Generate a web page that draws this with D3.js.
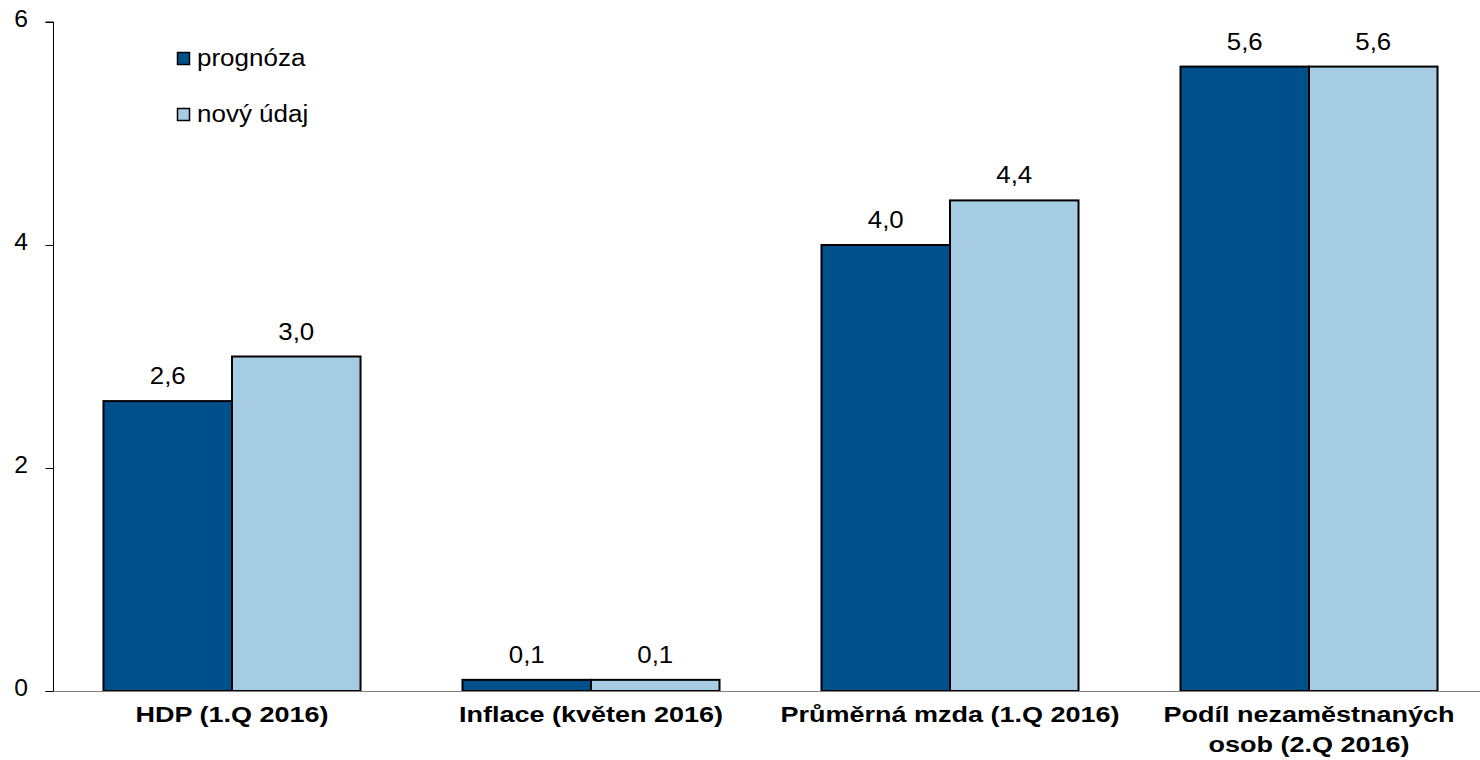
<!DOCTYPE html>
<html lang="cs">
<head>
<meta charset="utf-8">
<script src="https://cdn.jsdelivr.net/npm/d3@7"></script>
<style>
  html, body { margin: 0; padding: 0; background: #fff; }
  svg { display: block; font-family: "Liberation Sans", Arial, sans-serif; }
</style>
</head>
<body>
<svg id="chart" width="1480" height="760"></svg>
<script>
// Indicators compared: forecast vs. newly published figure
const categories = [
  ["HDP (1.Q 2016)"],
  ["Inflace (květen 2016)"],
  ["Průměrná mzda (1.Q 2016)"],
  ["Podíl nezaměstnaných", "osob (2.Q 2016)"]
];
const seriesNames = ["prognóza", "nový údaj"];
const prognoza = [2.6, 0.1, 4.0, 5.6];
const novyUdaj = [3.0, 0.1, 4.4, 5.6];
const yTicks = [0, 2, 4, 6];
const colors = ["#00508C", "#A6CCE4"];

const svg = d3.select("#chart");
const W = 1480, H = 760;
const plot = { left: 53, right: 1488.5, top: 22, bottom: 691 };

// Text in this chart is drawn slightly wide; place it with a horizontal stretch
function placeText(sel, x, y, sx) {
  sel.attr("transform", `translate(${x},${y}) scale(${sx},1)`);
  return sel;
}

const catKeys = categories.map(c => c.join(" "));
const x = d3.scaleBand()
  .domain(catKeys)
  .range([plot.left - 0.5, plot.right])
  .paddingInner(0.284)
  .paddingOuter(0.142);
const xs = d3.scaleBand()
  .domain(seriesNames)
  .range([0, x.bandwidth()])
  .padding(0);
const y = d3.scaleLinear().domain([0, 6]).range([plot.bottom, plot.top]);

const fmt = v => d3.format(".1f")(v).replace(".", ",");
const series = [prognoza, novyUdaj];

// Bars and value labels
const groups = svg.append("g").selectAll("g")
  .data(catKeys)
  .join("g")
  .attr("transform", d => `translate(${x(d)},0)`);

groups.each(function(cat, i) {
  const g = d3.select(this);
  seriesNames.forEach((name, s) => {
    const v = series[s][i];
    g.append("rect")
      .attr("x", xs(name))
      .attr("y", y(v))
      .attr("width", xs.bandwidth())
      .attr("height", y(0) - y(v))
      .attr("fill", colors[s])
      .attr("stroke", "#000")
      .attr("stroke-width", 2);
    placeText(
      g.append("text")
        .attr("text-anchor", "middle")
        .attr("font-size", 23.5)
        .attr("fill", "#000")
        .text(fmt(v)),
      xs(name) + xs.bandwidth() / 2, y(v) - 17, 1.1);
  });
});

// Zero baseline
svg.append("line")
  .attr("x1", plot.left - 8).attr("x2", W)
  .attr("y1", y(0) + 0.5).attr("y2", y(0) + 0.5)
  .attr("stroke", "#808080")
  .attr("stroke-width", 1.2);

// Y axis
const yAxis = svg.append("g")
  .attr("transform", `translate(${plot.left + 0.5},0)`)
  .call(d3.axisLeft(y).tickValues(yTicks).tickSize(8).tickFormat(d3.format("d")));
yAxis.attr("font-size", 23.5).attr("font-family", "Liberation Sans, Arial, sans-serif");
yAxis.select(".domain").attr("stroke", "#000").attr("d", `M-8,${y(6)}H0V${y(0)}`);
yAxis.selectAll(".tick line").attr("stroke", "#000");
yAxis.selectAll(".tick text")
  .attr("x", null).attr("dy", null)
  .attr("font-size", 23.5)
  .attr("fill", "#000")
  .attr("text-anchor", "end")
  .attr("transform", "translate(-25.5,4) scale(1.05,1)");

// Category labels
const catLabels = svg.append("g").selectAll("text")
  .data(categories)
  .join("text")
  .attr("text-anchor", "middle")
  .attr("font-size", 22.5)
  .attr("font-weight", "bold")
  .attr("fill", "#000")
  .attr("transform", (d, i) => `translate(${x(catKeys[i]) + x.bandwidth() / 2},722) scale(1.2,1)`);
catLabels.selectAll("tspan")
  .data(d => d)
  .join("tspan")
  .attr("x", 0)
  .attr("dy", (d, j) => j === 0 ? 0 : 30)
  .text(d => d);

// Legend
const legend = svg.append("g").attr("transform", "translate(177,52)");
seriesNames.forEach((name, s) => {
  const row = legend.append("g").attr("transform", `translate(0,${s * 56})`);
  row.append("rect")
    .attr("x", 0.5).attr("y", 0.5)
    .attr("width", 12).attr("height", 12)
    .attr("fill", colors[s])
    .attr("stroke", "#000")
    .attr("stroke-width", 1.5);
  placeText(
    row.append("text")
      .attr("font-size", 23)
      .attr("fill", "#000")
      .text(name),
    20, 14, 1.13);
});
</script>
</body>
</html>
